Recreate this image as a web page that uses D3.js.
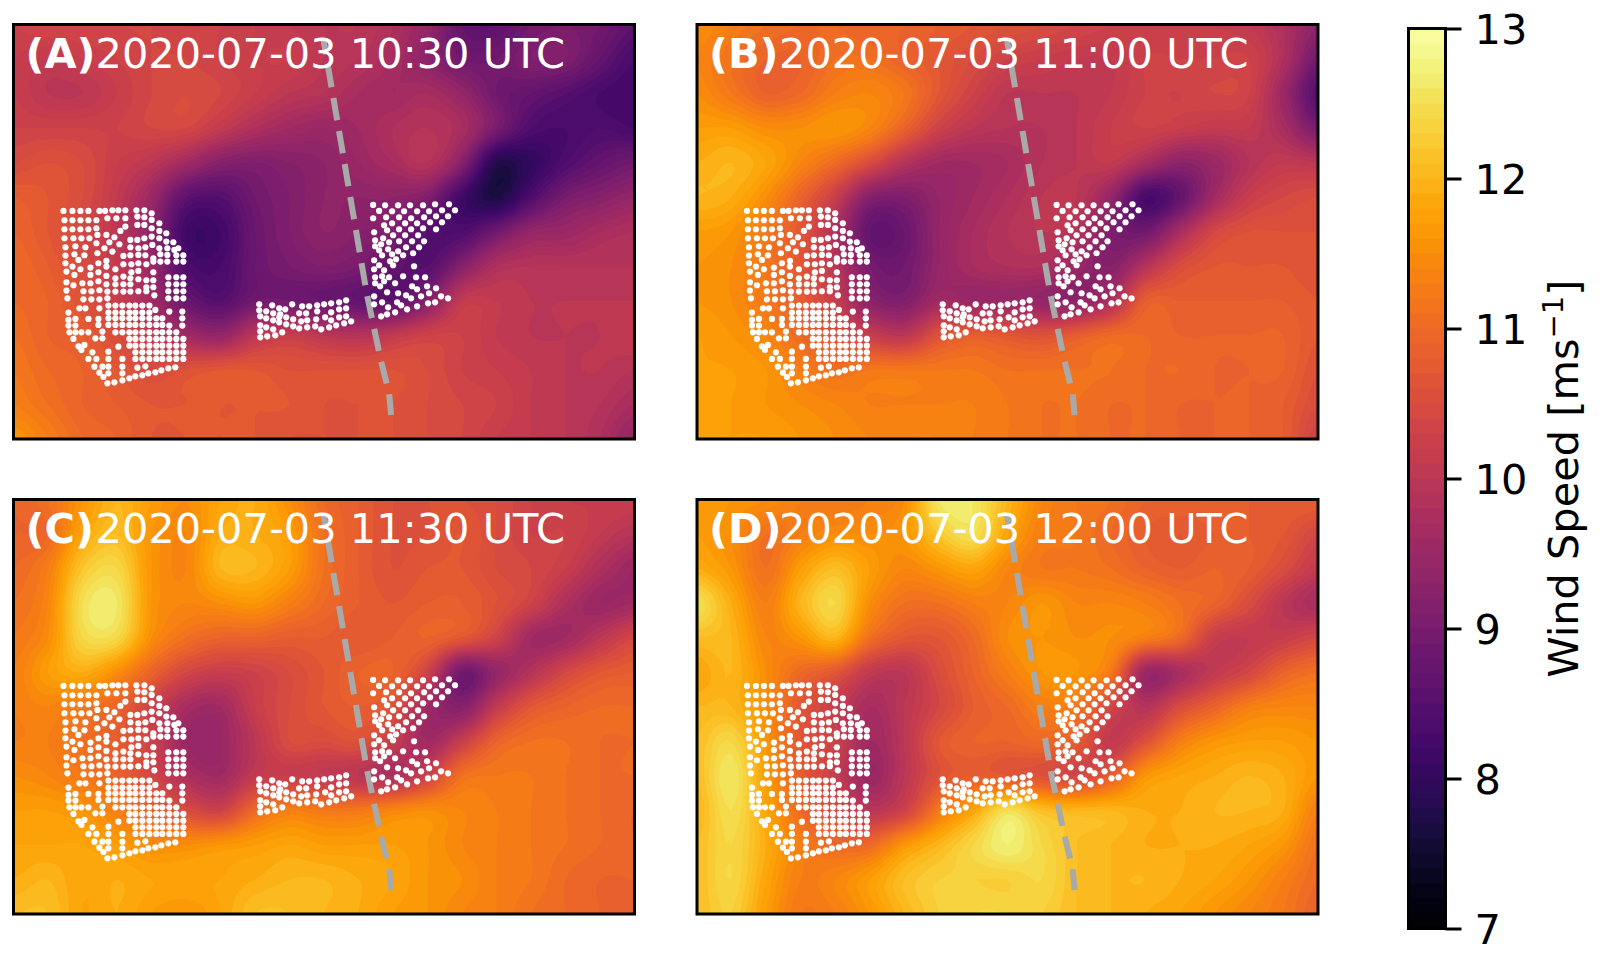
<!DOCTYPE html>
<html>
<head>
<meta charset="utf-8">
<style>
  html, body { margin: 0; padding: 0; background: #fff; }
  text { font-family: "DejaVu Sans", sans-serif; }
</style>
<script src="https://cdn.jsdelivr.net/npm/d3@7"></script>
</head>
<body>
<svg id="chart" width="1600" height="956"></svg>
<script>
// wind speed, 19 columns west to east, 13 rows north to south
var windA = [
  10.3,10.4,10.4,10.4,10.4,10.3,10.3,10.2,10.1,10.0,10.0, 9.8, 9.4, 8.7, 8.6, 8.9, 9.0, 8.9, 8.6,
  10.2,10.1,10.2,10.3,10.4,10.4,10.3,10.2,10.2,10.0, 9.9, 9.7, 9.3, 8.9, 8.9, 9.1, 9.1, 8.7, 8.3,
  10.2,10.0,10.0,10.2,10.4,10.5,10.4,10.2,10.0, 9.9, 9.7, 9.6, 9.7, 9.4, 8.9, 8.7, 8.5, 8.3, 8.2,
  10.3,10.3,10.3,10.3,10.4,10.4,10.1, 9.8, 9.6, 9.5, 9.6, 9.8, 9.9, 9.7, 9.0, 8.4, 8.3, 8.4, 8.3,
  10.5,10.6,10.5,10.2,10.0, 9.6, 9.2, 9.1, 9.2, 9.3, 9.5, 9.7, 9.9, 9.2, 7.8, 8.0, 8.4, 8.7, 8.9,
  10.8,10.7,10.5,10.1, 9.5, 8.6, 8.5, 8.9, 9.1, 9.3, 9.3, 9.3, 9.1, 8.2, 7.7, 8.4, 9.0, 9.2, 9.4,
  10.9,10.7,10.4,10.0, 9.3, 8.2, 8.2, 8.8, 9.1, 9.3, 9.2, 9.1, 8.5, 8.4, 8.9, 9.4, 9.5, 9.7, 9.8,
  11.0,10.8,10.5,10.1, 9.5, 8.4, 8.3, 8.8, 9.0, 9.1, 9.0, 8.7, 8.5, 9.2, 9.8, 9.9, 9.9, 9.9, 9.9,
  11.0,10.9,10.6,10.2, 9.6, 8.8, 8.5, 8.9, 8.9, 8.8, 8.7, 8.6, 9.2,10.1,10.1,10.0,10.0,10.0,10.0,
  11.1,10.9,10.8,10.5,10.1, 9.6, 9.4,10.0,10.2,10.0, 9.9,10.1,10.3,10.3,10.1,10.0,10.0,10.0,10.1,
  11.2,11.0,10.9,10.7,10.5,10.6,10.7,10.7,10.6,10.6,10.6,10.6,10.5,10.3,10.2,10.1,10.0,10.0, 9.9,
  11.3,11.1,10.9,10.8,10.7,10.7,10.7,10.7,10.7,10.6,10.6,10.6,10.5,10.4,10.3,10.1,10.0, 9.9, 9.7,
  11.6,11.3,11.0,10.9,10.7,10.7,10.7,10.7,10.6,10.6,10.6,10.6,10.5,10.4,10.2,10.1,10.0, 9.8, 9.4
];
var windB = [
  11.5,11.3,11.1,11.0,11.0,10.9,10.9,10.8,10.7,10.6,10.5,10.4,10.3,10.2,10.2,10.2,10.1, 9.8, 9.3,
  11.4,11.1,10.9,10.9,11.1,11.1,10.9,10.7,10.5,10.3,10.2,10.1,10.1,10.3,10.3,10.3,10.3, 9.8, 8.9,
  11.5,11.2,10.9,11.0,11.3,11.4,11.2,10.7,10.3,10.0,10.0,10.0,10.1,10.3,10.3,10.4,10.3, 9.5, 8.5,
  11.7,11.7,11.5,11.5,11.6,11.4,10.9,10.3,10.0, 9.9, 9.9,10.0,10.2,10.3,10.2,10.1,10.1, 9.7, 9.0,
  11.9,12.0,11.8,11.4,11.0,10.5, 9.9, 9.6, 9.6, 9.7, 9.9,10.0,10.1, 9.7, 9.3, 9.5, 9.9,10.1,10.0,
  12.0,11.9,11.5,10.9,10.2, 9.2, 9.1, 9.4, 9.6, 9.8,10.0,10.0, 9.4, 8.3, 8.7, 9.6,10.2,10.4,10.5,
  11.7,11.6,11.2,10.7, 9.8, 8.7, 8.8, 9.4, 9.7, 9.9,10.0, 9.9, 9.1, 8.9, 9.7,10.4,10.6,10.6,10.6,
  11.6,11.5,11.2,10.7,10.0, 9.0, 8.9, 9.4, 9.7, 9.8, 9.8, 9.5, 9.2, 9.9,10.5,10.7,10.7,10.7,10.6,
  11.6,11.5,11.2,10.8,10.2, 9.3, 9.1, 9.6, 9.5, 9.5, 9.4, 9.3, 9.8,10.8,10.8,10.8,10.8,10.8,10.7,
  11.7,11.6,11.4,11.0,10.6,10.2,10.0,10.6,10.8,10.7,10.6,10.8,11.0,11.0,10.9,10.9,10.9,10.9,10.7,
  11.7,11.7,11.6,11.3,11.1,11.2,11.2,11.2,11.2,11.1,11.1,11.1,11.1,11.0,11.0,10.9,10.9,10.9,10.6,
  11.7,11.7,11.6,11.5,11.4,11.3,11.3,11.3,11.3,11.2,11.1,11.1,11.0,11.0,10.9,10.9,10.9,10.8,10.5,
  11.7,11.7,11.7,11.6,11.5,11.4,11.4,11.4,11.3,11.2,11.1,11.1,11.0,11.0,10.9,10.9,10.9,10.8,10.3
];
var windC = [
  10.9,11.1,11.6,12.0,11.7,11.5,11.8,11.9,11.5,11.0,10.8,10.6,10.6,10.6,10.5,10.3,10.2,10.2,10.2,
  10.9,11.0,11.8,12.1,11.6,11.4,11.9,11.9,11.7,11.1,10.8,10.6,10.6,10.7,10.5,10.3,10.3,10.1, 9.9,
  11.0,11.3,12.2,12.4,11.6,11.4,12.0,12.0,11.7,11.1,10.8,10.6,10.7,10.7,10.5,10.4,10.2, 9.8, 9.5,
  11.1,11.4,12.5,12.6,11.6,11.4,11.5,11.6,11.3,11.0,10.8,10.7,10.8,10.8,10.6,10.3, 9.8, 9.5, 9.6,
  11.2,11.5,12.4,12.4,11.5,11.1,10.9,10.9,10.8,10.8,10.7,10.8,10.9,10.7,10.3, 9.6, 9.6,10.0,10.4,
  11.3,11.7,11.9,11.5,10.9,10.4,10.2,10.3,10.5,10.7,10.9,10.9,10.3, 8.9, 9.4, 9.9,10.4,10.7,10.8,
  11.3,11.4,11.2,10.9,10.3, 9.7, 9.6,10.2,10.5,10.7,10.8,10.6, 9.6, 9.2,10.1,10.7,10.9,11.0,11.0,
  11.3,11.3,11.1,10.8,10.3, 9.5, 9.5,10.0,10.5,10.5,10.6,10.2, 9.6,10.2,10.9,11.1,11.1,11.0,11.0,
  11.5,11.4,11.2,10.9,10.4, 9.8, 9.6,10.1,10.2,10.1,10.0, 9.8,10.3,11.1,11.2,11.2,11.1,11.0,11.0,
  11.7,11.7,11.6,11.3,10.9,10.5,10.3,11.0,11.3,11.2,11.2,11.4,11.5,11.4,11.3,11.2,11.1,11.0,10.9,
  11.8,11.8,11.8,11.7,11.5,11.5,11.6,11.7,11.8,11.7,11.7,11.7,11.6,11.4,11.3,11.2,11.1,11.0,10.9,
  11.9,12.0,11.8,11.9,11.8,11.8,11.8,11.9,12.0,12.0,11.9,11.8,11.6,11.5,11.3,11.2,11.0,10.9,10.9,
  12.1,12.1,11.8,11.9,11.7,11.6,11.8,12.1,12.1,12.0,11.9,11.7,11.6,11.4,11.3,11.1,11.0,10.9,10.8
];
var windD = [
  11.7,11.6,11.5,11.3,11.2,11.3,11.5,12.6,12.6,12.0,11.4,11.2,11.1,10.9,10.9,10.9,10.8,10.8,10.8,
  11.7,11.5,11.1,11.3,11.5,11.5,11.6,12.2,12.5,11.8,11.3,11.2,11.0,10.8,10.7,10.8,10.8,10.7,10.4,
  11.9,11.6,11.1,11.7,12.1,11.7,11.4,11.6,11.8,11.4,11.2,11.2,11.1,10.9,10.8,10.9,10.8,10.5,10.1,
  12.5,11.9,11.3,12.0,12.4,11.5,11.1,11.1,11.3,11.4,11.6,11.4,11.4,11.3,11.1,10.9,10.5,10.0, 9.7,
  12.1,12.0,11.4,11.6,12.0,11.1,10.7,10.7,11.0,11.5,11.6,11.5,11.5,11.3,11.0,10.2,10.1,10.2,10.4,
  11.8,12.0,11.5,11.0,10.7,10.1,10.0,10.5,10.9,11.3,11.6,11.6,11.2, 9.5, 9.7,10.1,10.4,10.9,11.1,
  12.0,12.0,11.5,10.7,10.2, 9.7,10.0,10.4,10.8,11.0,11.3,11.2,10.4, 9.9,10.5,10.9,11.3,11.4,11.4,
  12.1,12.4,11.6,10.7,10.3, 9.6,10.0,10.7,10.9,10.9,11.0,10.8,10.1,10.6,11.3,11.6,11.7,11.7,11.6,
  12.1,12.6,11.7,10.8,10.2, 9.5,10.0,10.6,10.8,10.7,10.6,10.4,10.8,11.6,11.8,11.9,12.0,11.9,11.6,
  12.0,12.5,11.8,11.0,10.5,10.0,10.3,11.2,11.8,12.5,12.1,12.0,12.0,11.9,11.9,12.0,12.0,11.9,11.3,
  12.1,12.4,11.9,11.3,11.0,11.0,11.6,12.0,12.4,12.7,12.4,12.1,12.0,11.9,11.9,11.9,11.8,11.6,11.1,
  12.1,12.4,11.8,11.3,11.4,11.7,12.1,12.3,12.3,12.3,12.4,12.1,12.0,12.0,11.9,11.8,11.6,11.3,11.0,
  12.1,12.3,11.7,11.2,11.3,11.6,12.0,12.3,12.4,12.4,12.3,12.1,12.0,11.9,11.8,11.6,11.4,11.2,10.9
];
var gridCols = 19, gridRows = 13;

var panelLetters = ['(A)', '(B)', '(C)', '(D)'];
var panelTimes = ['2020-07-03 10:30 UTC', '2020-07-03 11:00 UTC', '2020-07-03 11:30 UTC', '2020-07-03 12:00 UTC'];
var panelWinds = [windA, windB, windC, windD];

var colorbarTicks = [7, 8, 9, 10, 11, 12, 13];
var windLevels = d3.range(7, 13.001, 0.1);

// turbine positions, site units
var westFarm = [
  [40,48],[67,48],[91,48],[115,48],[148,48],[165,48],[187,46],[205,46],[226,46],[259,46],[283,46],[305,55],
  [43,76],[67,76],[91,76],[115,76],[139,76],[172,70],[199,70],[226,70],[262,65],[283,67],[305,75],[328,85],
  [43,103],[67,103],[91,103],[115,103],[139,100],[226,95],[211,108],[262,90],[283,90],[305,100],[328,108],[349,115],
  [43,130],[70,130],[94,130],[118,130],[142,120],[169,120],[193,127],[178,142],[241,135],[262,135],[283,130],[305,125],[328,130],[349,140],[370,142],
  [46,157],[76,154],[106,157],[139,145],[163,160],[187,170],[208,148],[241,157],[265,160],[286,157],[307,150],[328,160],[352,160],[373,165],[385,160],
  [46,182],[73,178],[103,181],[142,175],[220,183],[241,181],[265,180],[286,181],[310,190],[331,178],[352,180],[379,181],[400,181],
  [46,205],[85,195],[145,205],[169,198],[220,208],[244,208],[265,205],[289,208],[310,200],[331,200],[352,200],[379,200],[400,200],
  [49,230],[67,215],[91,223],[121,218],[121,240],[73,240],[145,232],[169,215],[196,223],[244,232],[265,228],[310,232],
  [169,243],[196,250],[220,245],[241,250],[265,253],[289,256],[310,256],[355,247],[379,247],[400,247],
  [49,262],[97,265],[121,265],[145,259],[169,268],[196,268],[220,268],[241,268],[289,277],[310,277],[355,268],[379,268],[400,268],
  [49,287],[70,271],[100,289],[124,289],[148,286],[172,290],[196,290],[220,290],[241,290],[265,289],[289,289],[313,301],[355,289],[379,289],[400,289],
  [52,310],[100,313],[124,313],[148,313],[172,310],[355,310],[379,310],[400,310],
  [88,340],[106,340],[148,340],[175,332],[196,332],[217,332],[238,332],[256,332],[277,332],[298,332],[316,345],
  [55,353],[175,353],[196,353],[217,353],[238,353],[256,353],[277,353],[298,353],[358,350],[397,350],
  [55,375],[76,372],[115,372],[145,372],[175,370],[196,370],[217,370],[238,370],[256,370],[277,370],[298,370],[319,370],[337,370],[397,370],
  [55,392],[76,392],[145,390],[175,390],[196,390],[217,390],[238,390],[256,390],[277,390],[298,390],[319,390],[337,390],[358,392],[397,392],
  [58,412],[76,412],[94,412],[115,412],[157,410],[196,412],[217,412],[238,412],[256,412],[277,412],[298,412],[319,412],[337,412],[358,412],[379,412],
  [70,432],[136,430],[157,430],[238,432],[256,432],[277,432],[298,432],[319,432],[337,432],[358,432],[379,432],[400,432],
  [85,454],[103,450],[205,455],[238,452],[256,452],[277,452],[298,452],[319,452],[337,452],[358,452],[379,452],[400,452],
  [94,465],[127,472],[175,470],[256,472],[277,472],[298,472],[319,472],[337,472],[358,472],[379,472],[400,472],
  [115,492],[139,492],[175,492],[217,492],[256,492],[277,492],[298,492],[319,492],[337,492],[358,492],[379,492],[400,492],
  [133,515],[157,515],[175,515],[217,515],[262,518],[286,514],
  [148,533],[160,546],[175,535],[217,535],
  [172,565],[193,562],[217,556],[238,550],[256,544],[277,541],[295,535],[316,532],[334,526],[355,520],[376,517]
];
var middleFarm = [
  [43,343],[82,346],[103,355],[121,358],[142,343],[172,349],[193,349],[217,346],[238,343],[259,340],[283,337],[304,331],
  [43,361],[64,364],[85,370],[106,373],[163,370],[184,370],[217,364],[259,367],[283,358],[304,355],
  [46,379],[64,385],[85,391],[103,382],[124,382],[145,388],[169,394],[187,391],[214,388],[241,382],[259,391],[283,382],[304,379],[319,394],
  [46,406],[64,412],[85,418],[103,397],[124,403],[145,409],[163,415],[187,412],[211,409],[229,418],[253,412],[274,406],[298,400],
  [46,424],[46,442],[67,439],[91,436],[112,427]
];
var eastFarm = [
  [385,45],[421,46],[460,46],[496,46],[535,46],[571,43],[613,43],
  [403,63],[442,64],[478,64],[517,64],[553,64],[592,61],[631,61],
  [385,85],[424,82],[463,82],[499,85],[538,82],[574,79],[610,79],
  [418,106],[442,100],[481,100],[517,100],[556,97],[592,97],
  [427,121],[463,118],[499,118],[535,115],[574,118],
  [388,127],[445,136],[481,136],[520,136],
  [415,145],[391,151],[433,157],[463,154],[502,154],[538,154],
  [409,163],[391,169],[403,181],[430,178],[484,172],[523,172],
  [412,196],[442,193],[460,184],[475,196],[505,190],
  [388,211],[454,208],[436,214],[403,226],[445,226],[508,229],
  [388,238],[418,241],[391,262],[412,259],[433,262],[475,259],[514,262],[541,262],
  [391,280],[418,274],[406,289],[451,280],[502,289],[517,298],[547,289],[574,295],
  [427,307],[460,310],[484,316],[529,319],[553,310],[589,319],[610,325],[499,325],
  [388,319],[388,343],[412,337],[457,337],[469,346],[430,352],[487,358],[517,349],[550,340],[571,337],
  [409,379],[427,373],[451,367]
];
var eastOffset = [585, -15]; // middle and east farms were read in their own frame

var transect = [[821,-465],[951,297],[993,495],[1018,594],[1024,660]];

var svg = d3.select('#chart');

var panelWidth = 621, panelHeight = 414.5;
var panelLeft = [13.5, 697, 13.5, 697],
    panelTop  = [24.5, 24.5, 499.5, 499.5];

var xScale = d3.scaleLinear().domain([-110, 1755]).range([0, panelWidth]),
    yScale = d3.scaleLinear().domain([-511, 732]).range([0, panelHeight]);
var colX = d3.scaleLinear().domain([0, gridCols - 1]).range([0, panelWidth]),
    rowY = d3.scaleLinear().domain([0, gridRows - 1]).range([0, panelHeight]);
var color = d3.scaleSequential(d3.interpolateInferno).domain([7, 13]);

// catmull-rom, only to draw the read values as smooth contours
function spline(a, b, c, d, t) {
  return 0.5 * (2*b + (c-a)*t + (2*a-5*b+4*c-d)*t*t + (3*b-a-3*c+d)*t*t*t);
}
var refine = 6;
function smoothField(values) {
  var at = function(i, j) {
    i = Math.max(0, Math.min(gridCols - 1, i));
    j = Math.max(0, Math.min(gridRows - 1, j));
    return values[j * gridCols + i];
  };
  var w = (gridCols - 1) * refine + 1, h = (gridRows - 1) * refine + 1, out = [];
  for (var y = 0; y < h; y++) {
    var j = Math.floor(y / refine), v = y / refine - j;
    for (var x = 0; x < w; x++) {
      var i = Math.floor(x / refine), u = x / refine - i, col = [];
      for (var k = -1; k <= 2; k++) {
        col.push(spline(at(i-1,j+k), at(i,j+k), at(i+1,j+k), at(i+2,j+k), u));
      }
      out.push(spline(col[0], col[1], col[2], col[3], v));
    }
  }
  return {w: w, h: h, values: out};
}

var fieldPath = d3.geoPath(d3.geoTransform({
  point: function(x, y) {
    this.stream.point(colX((x - 0.5) / refine), rowY((y - 0.5) / refine));
  }
}));
var transectLine = d3.line().x(d => xScale(d[0])).y(d => yScale(d[1]));

panelWinds.forEach(function(wind, p) {
  var g = svg.append('g')
             .attr('transform', 'translate(' + panelLeft[p] + ',' + panelTop[p] + ')');

  g.append('clipPath').attr('id', 'clip-' + p)
   .append('rect').attr('width', panelWidth).attr('height', panelHeight);

  var field = smoothField(wind);
  var bands = d3.contours().size([field.w, field.h]).thresholds(windLevels)(field.values);

  g.append('g').attr('clip-path', 'url(#clip-' + p + ')')
   .selectAll('path')
   .data(bands)
   .enter()
   .append('path')
   .attr('d', fieldPath)
   .attr('fill', d => color(d.value + 0.05));

  g.append('path')
   .attr('d', transectLine(transect))
   .attr('fill', 'none')
   .attr('stroke', '#a9a9a9')
   .attr('stroke-width', 6)
   .attr('stroke-dasharray', '22.5,11')
   .attr('stroke-dashoffset', 8);

  g.append('g').selectAll('circle')
   .data(westFarm)
   .enter().append('circle')
   .attr('cx', d => xScale(d[0])).attr('cy', d => yScale(d[1]))
   .attr('r', 3.1).attr('fill', '#fff');

  g.append('g').selectAll('circle')
   .data(middleFarm.concat(eastFarm))
   .enter().append('circle')
   .attr('cx', d => xScale(d[0] + eastOffset[0])).attr('cy', d => yScale(d[1] + eastOffset[1]))
   .attr('r', 3.1).attr('fill', '#fff');

  g.append('text')
   .attr('x', 12).attr('y', 43)
   .attr('font-size', 41.5).attr('font-weight', 'bold').attr('fill', '#fff')
   .text(panelLetters[p]);
  g.append('text')
   .attr('x', 82).attr('y', 43)
   .attr('font-size', 41.5).attr('fill', '#fff')
   .text(panelTimes[p]);

  g.append('rect')
   .attr('width', panelWidth).attr('height', panelHeight)
   .attr('fill', 'none').attr('stroke', '#000').attr('stroke-width', 3);
});

// colorbar
var barLeft = 1408.5, barWidth = 37;
var barScale = d3.scaleLinear().domain([7, 13]).range([928.5, 28.5]);

svg.append('g').selectAll('rect')
   .data(windLevels.slice(0, -1))
   .enter().append('rect')
   .attr('x', barLeft).attr('width', barWidth)
   .attr('y', d => barScale(d + 0.1) - 0.5)
   .attr('height', d => barScale(d) - barScale(d + 0.1) + 0.5)
   .attr('fill', d => color(d + 0.05));

svg.append('rect')
   .attr('x', barLeft).attr('y', barScale(13))
   .attr('width', barWidth).attr('height', barScale(7) - barScale(13))
   .attr('fill', 'none').attr('stroke', '#000').attr('stroke-width', 3);

var barAxis = svg.append('g')
   .attr('transform', 'translate(' + (barLeft + barWidth) + ',0)')
   .call(d3.axisRight(barScale).tickValues(colorbarTicks).tickSize(16).tickPadding(13).tickFormat(d3.format('d')));
barAxis.select('.domain').remove();
barAxis.selectAll('.tick line').attr('stroke', '#000').attr('stroke-width', 3);
barAxis.selectAll('.tick text').attr('font-size', 41.5).attr('fill', '#000').attr('y', 2)
       .style('font-family', '"DejaVu Sans", sans-serif');

var barTitle = svg.append('text')
   .attr('transform', 'translate(1578,' + barScale(10) + ') rotate(-90)')
   .attr('text-anchor', 'middle')
   .attr('font-size', 41.5).attr('fill', '#000');
barTitle.append('tspan').text('Wind Speed [ms');
barTitle.append('tspan').attr('font-size', 29).attr('dy', -15).text('\u22121');
barTitle.append('tspan').attr('dy', 15).text(']');
</script>
</body>
</html>
